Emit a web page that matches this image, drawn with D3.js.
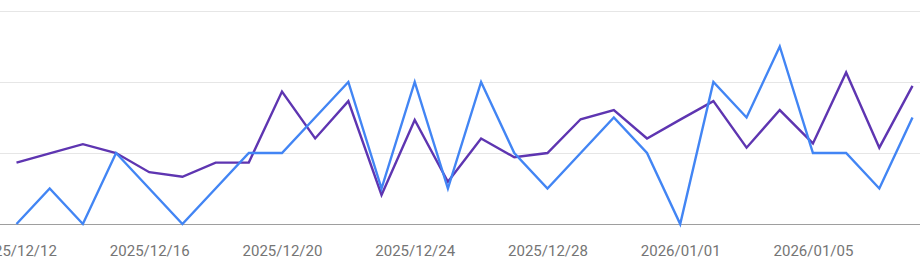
<!DOCTYPE html>
<html>
<head>
<meta charset="utf-8">
<script src="https://cdn.jsdelivr.net/npm/d3@7"></script>
<style>
    body { margin: 0; background: #fff; }
    #chart { width: 920px; height: 273px; }
    .x-axis text { font-family: Roboto, sans-serif; font-size: 15px; fill: #757575; }
</style>
</head>
<body>
<div id="chart"></div>
<script>
// days shown, 2025/12/12 .. 2026/01/08
const days = ["2025-12-12", "2025-12-13", "2025-12-14", "2025-12-15", "2025-12-16", "2025-12-17", "2025-12-18",
    "2025-12-19", "2025-12-20", "2025-12-21", "2025-12-22", "2025-12-23", "2025-12-24", "2025-12-25",
    "2025-12-26", "2025-12-27", "2025-12-28", "2025-12-29", "2025-12-30", "2025-12-31", "2026-01-01",
    "2026-01-02", "2026-01-03", "2026-01-04", "2026-01-05", "2026-01-06", "2026-01-07", "2026-01-08"];

const blueValues = [0, 1, 0, 2, 1, 0, 1, 2, 2, 3, 4, 1, 4, 1, 4, 2, 1, 2, 3, 2, 0, 4, 3, 5, 2, 2, 1, 3];
const purpleValues = [1.73, 1.99, 2.25, 2.0, 1.46, 1.33, 1.73, 1.73, 3.73, 2.41, 3.46, 0.82, 2.93, 1.19,
    2.41, 1.88, 2.0, 2.95, 3.21, 2.41, 2.94, 3.46, 2.15, 3.21, 2.27, 4.27, 2.15, 3.89];

const yTicks = [0, 2, 4, 6];
const xTicks = ["2025-12-12", "2025-12-16", "2025-12-20", "2025-12-24", "2025-12-28", "2026-01-01", "2026-01-05"];

const parse = d3.timeParse("%Y-%m-%d");
const fmt = d3.timeFormat("%Y/%m/%d");

const width = 920, height = 273;
const svg = d3.select("#chart").append("svg")
    .attr("width", width)
    .attr("height", height);

const x = d3.scaleTime()
    .domain([parse(days[0]), parse(days[days.length - 1])])
    .range([16.5, 912.5]);

const y = d3.scaleLinear()
    .domain([0, 6])
    .range([224, 11]);

// grid lines
svg.append("g")
    .selectAll("line")
    .data(yTicks)
    .join("line")
    .attr("x1", 0)
    .attr("x2", width)
    .attr("y1", d => Math.round(y(d)) + 0.5)
    .attr("y2", d => Math.round(y(d)) + 0.5)
    .attr("stroke", d => d === 0 ? "#9e9e9e" : "#e6e6e6")
    .attr("stroke-width", 1);

// x axis labels
const xAxis = d3.axisBottom(x)
    .tickValues(xTicks.map(parse))
    .tickFormat(fmt)
    .tickSize(0)
    .tickPadding(0);

svg.append("g")
    .attr("class", "x-axis")
    .attr("transform", "translate(0,245)")
    .call(xAxis)
    .call(g => g.select(".domain").remove());

const line = d3.line()
    .x((d, i) => x(parse(days[i])))
    .y(d => y(d));

const series = [
    { values: purpleValues, color: "#5e35b1" },
    { values: blueValues, color: "#4285f4" }
];

svg.selectAll(".series")
    .data(series)
    .join("path")
    .attr("class", "series")
    .attr("d", d => line(d.values))
    .attr("fill", "none")
    .attr("stroke", d => d.color)
    .attr("stroke-width", 2.4)
    .attr("stroke-linejoin", "miter");
</script>
</body>
</html>
